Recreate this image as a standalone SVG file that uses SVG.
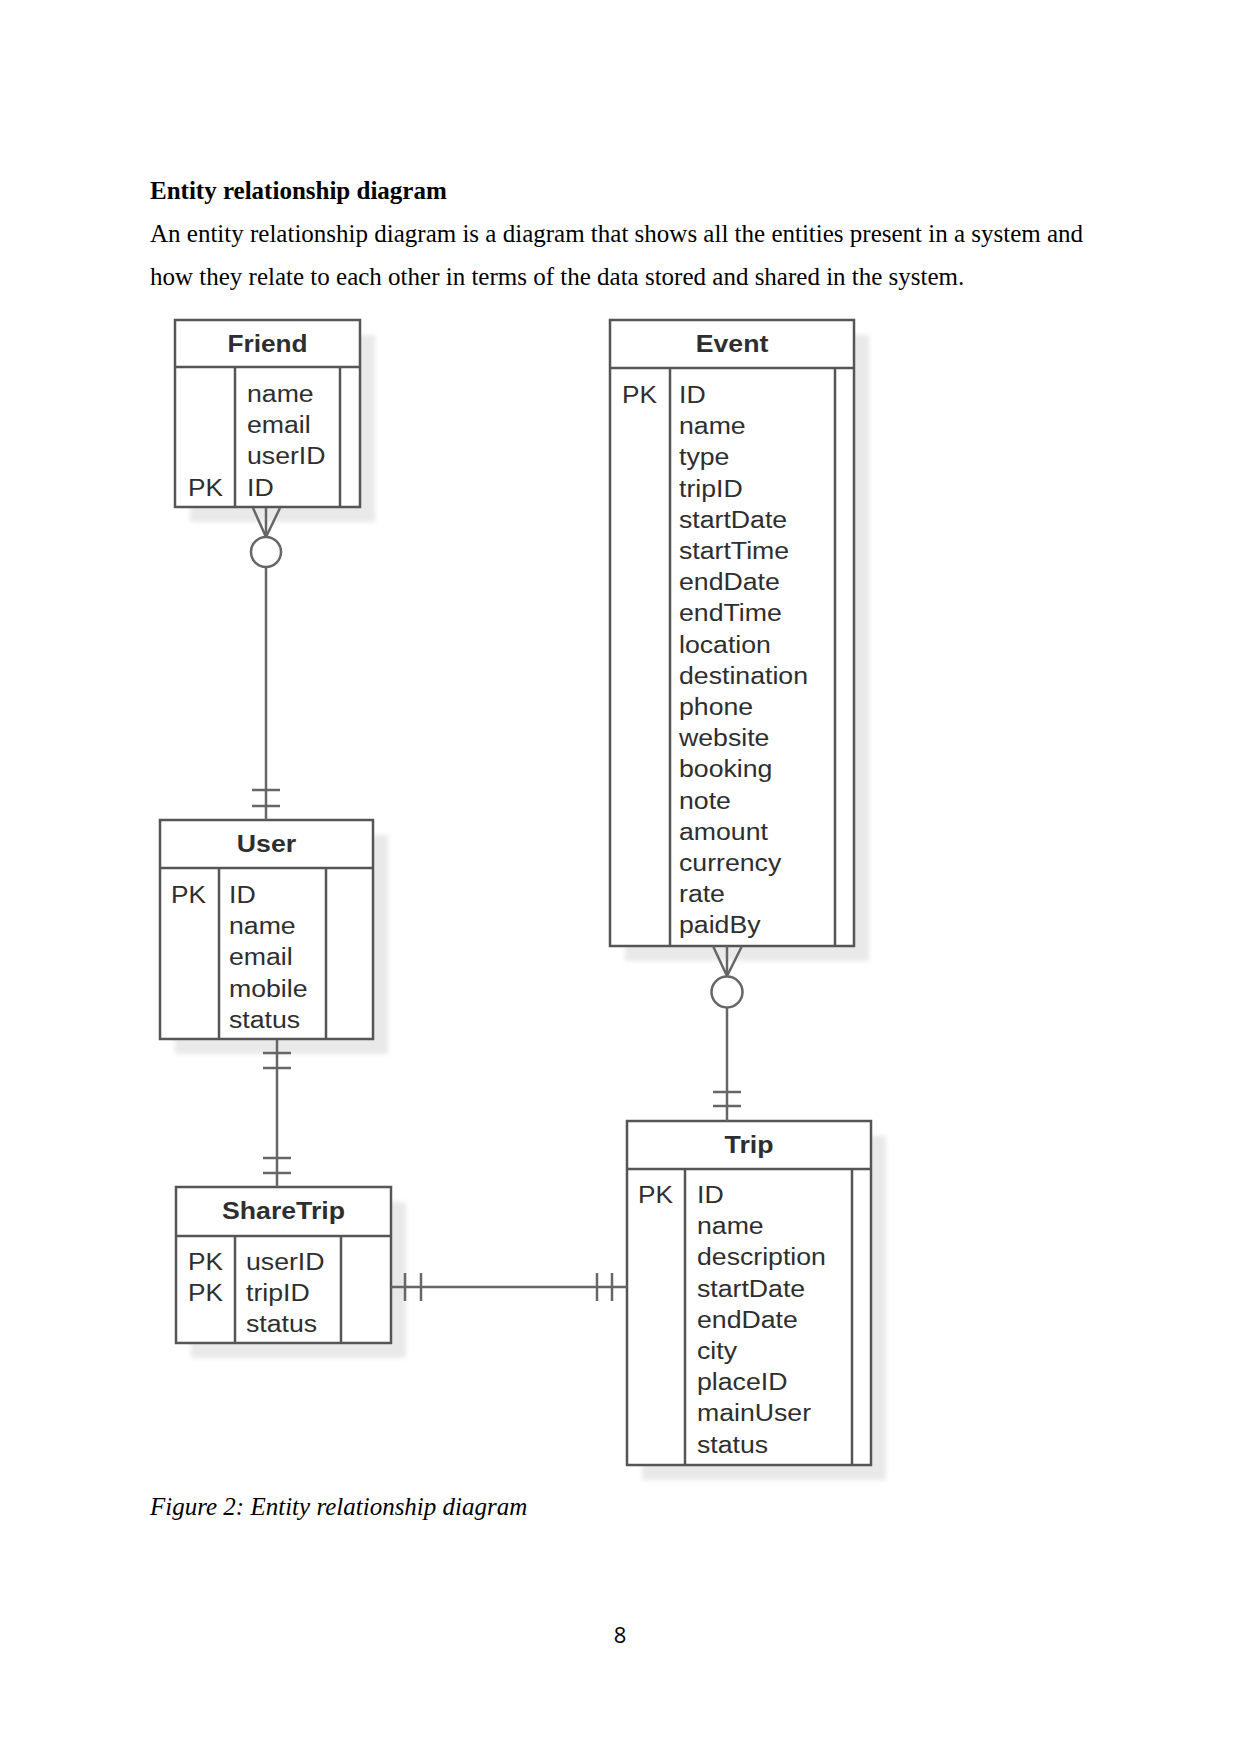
<svg xmlns="http://www.w3.org/2000/svg" width="1241" height="1754" viewBox="0 0 1241 1754">
<style>
.body{font-family:"Liberation Serif","Times New Roman",serif;font-size:25px;fill:#000}
.b{font-weight:bold}
.i{font-style:italic}
.pg{font-family:"Open Sans","DejaVu Sans",sans-serif;font-size:22px;fill:#000}
.box{fill:#fff;stroke:#555;stroke-width:2.5}
.div{stroke:#555;stroke-width:2.5;fill:none}
.sh{fill:#e9e9e9;filter:url(#blur)}
.t{font-family:"Liberation Sans",Arial,sans-serif;font-size:23px;fill:#2e2e2e}
.ttl{font-family:"Liberation Sans",Arial,sans-serif;font-size:23px;font-weight:bold;fill:#2e2e2e;text-anchor:middle}
.c{stroke:#666;stroke-width:2.5;fill:none}
</style>
<defs>
<filter id="blur" x="-10%" y="-10%" width="120%" height="120%"><feGaussianBlur stdDeviation="2"/></filter>
</defs>
<rect width="1241" height="1754" fill="#fff"/>

<text class="body b" x="150" y="199">Entity relationship diagram</text>
<text class="body" x="150" y="242">An entity relationship diagram is a diagram that shows all the entities present in a system and</text>
<text class="body" x="150" y="285">how they relate to each other in terms of the data stored and shared in the system.</text>

<g id="shadows">
  <rect class="sh" x="190" y="335" width="185" height="187"/>
  <rect class="sh" x="625" y="335" width="244" height="626"/>
  <rect class="sh" x="175" y="835" width="213" height="219"/>
  <rect class="sh" x="191" y="1202" width="215" height="156"/>
  <rect class="sh" x="642" y="1136" width="244" height="344"/>
</g>

<g id="friend">
  <rect class="box" x="175" y="320" width="185" height="187"/>
  <line class="div" x1="175" y1="367" x2="360" y2="367"/>
  <line class="div" x1="235" y1="367" x2="235" y2="507"/>
  <line class="div" x1="340" y1="367" x2="340" y2="507"/>
  <g transform="translate(267.5 0) scale(1.14 1)"><text class="ttl" x="0" y="352">Friend</text></g>
  <g transform="translate(188 0) scale(1.14 1)"><text class="t" x="0" y="496">PK</text></g>
  <g transform="translate(247 0) scale(1.16 1)"><text class="t" x="0" y="402">name<tspan x="0" dy="31.2">email</tspan><tspan x="0" dy="31.2">userID</tspan><tspan x="0" dy="31.2">ID</tspan></text></g>
</g>

<g id="event">
  <rect class="box" x="610" y="320" width="244" height="626"/>
  <line class="div" x1="610" y1="368" x2="854" y2="368"/>
  <line class="div" x1="670" y1="368" x2="670" y2="946"/>
  <line class="div" x1="835" y1="368" x2="835" y2="946"/>
  <g transform="translate(732 0) scale(1.16 1)"><text class="ttl" x="0" y="352">Event</text></g>
  <g transform="translate(622 0) scale(1.14 1)"><text class="t" x="0" y="403">PK</text></g>
  <g transform="translate(679 0) scale(1.16 1)"><text class="t" x="0" y="403">ID<tspan x="0" dy="31.2">name</tspan><tspan x="0" dy="31.2">type</tspan><tspan x="0" dy="31.2">tripID</tspan><tspan x="0" dy="31.2">startDate</tspan><tspan x="0" dy="31.2">startTime</tspan><tspan x="0" dy="31.2">endDate</tspan><tspan x="0" dy="31.2">endTime</tspan><tspan x="0" dy="31.2">location</tspan><tspan x="0" dy="31.2">destination</tspan><tspan x="0" dy="31.2">phone</tspan><tspan x="0" dy="31.2">website</tspan><tspan x="0" dy="31.2">booking</tspan><tspan x="0" dy="31.2">note</tspan><tspan x="0" dy="31.2">amount</tspan><tspan x="0" dy="31.2">currency</tspan><tspan x="0" dy="31.2">rate</tspan><tspan x="0" dy="31.2">paidBy</tspan></text></g>
</g>

<g id="user">
  <rect class="box" x="160" y="820" width="213" height="219"/>
  <line class="div" x1="160" y1="868" x2="373" y2="868"/>
  <line class="div" x1="219" y1="868" x2="219" y2="1039"/>
  <line class="div" x1="326" y1="868" x2="326" y2="1039"/>
  <g transform="translate(266.5 0) scale(1.16 1)"><text class="ttl" x="0" y="852">User</text></g>
  <g transform="translate(171 0) scale(1.14 1)"><text class="t" x="0" y="903">PK</text></g>
  <g transform="translate(229 0) scale(1.16 1)"><text class="t" x="0" y="903">ID<tspan x="0" dy="31.2">name</tspan><tspan x="0" dy="31.2">email</tspan><tspan x="0" dy="31.2">mobile</tspan><tspan x="0" dy="31.2">status</tspan></text></g>
</g>

<g id="sharetrip">
  <rect class="box" x="176" y="1187" width="215" height="156"/>
  <line class="div" x1="176" y1="1236" x2="391" y2="1236"/>
  <line class="div" x1="235" y1="1236" x2="235" y2="1343"/>
  <line class="div" x1="341" y1="1236" x2="341" y2="1343"/>
  <g transform="translate(283.5 0) scale(1.16 1)"><text class="ttl" x="0" y="1219">ShareTrip</text></g>
  <g transform="translate(188 0) scale(1.14 1)"><text class="t" x="0" y="1270">PK<tspan x="0" dy="31.2">PK</tspan></text></g>
  <g transform="translate(246 0) scale(1.16 1)"><text class="t" x="0" y="1270">userID<tspan x="0" dy="31.2">tripID</tspan><tspan x="0" dy="31.2">status</tspan></text></g>
</g>

<g id="trip">
  <rect class="box" x="627" y="1121" width="244" height="344"/>
  <line class="div" x1="627" y1="1169" x2="871" y2="1169"/>
  <line class="div" x1="685" y1="1169" x2="685" y2="1465"/>
  <line class="div" x1="852" y1="1169" x2="852" y2="1465"/>
  <g transform="translate(749 0) scale(1.16 1)"><text class="ttl" x="0" y="1153">Trip</text></g>
  <g transform="translate(638 0) scale(1.14 1)"><text class="t" x="0" y="1203">PK</text></g>
  <g transform="translate(697 0) scale(1.16 1)"><text class="t" x="0" y="1203">ID<tspan x="0" dy="31.2">name</tspan><tspan x="0" dy="31.2">description</tspan><tspan x="0" dy="31.2">startDate</tspan><tspan x="0" dy="31.2">endDate</tspan><tspan x="0" dy="31.2">city</tspan><tspan x="0" dy="31.2">placeID</tspan><tspan x="0" dy="31.2">mainUser</tspan><tspan x="0" dy="31.2">status</tspan></text></g>
</g>

<g id="connectors">
  <!-- Friend - User -->
  <line class="c" x1="266" y1="508" x2="266" y2="537"/>
  <line class="c" x1="253" y1="508" x2="266" y2="537"/>
  <line class="c" x1="280" y1="508" x2="266" y2="537"/>
  <circle class="c" cx="266" cy="552" r="15" fill="#fff"/>
  <line class="c" x1="266" y1="567" x2="266" y2="820"/>
  <line class="c" x1="252" y1="790" x2="280" y2="790"/>
  <line class="c" x1="252" y1="806" x2="280" y2="806"/>
  <!-- User - ShareTrip -->
  <line class="c" x1="277" y1="1040" x2="277" y2="1187"/>
  <line class="c" x1="263" y1="1053" x2="291" y2="1053"/>
  <line class="c" x1="263" y1="1068" x2="291" y2="1068"/>
  <line class="c" x1="263" y1="1158" x2="291" y2="1158"/>
  <line class="c" x1="263" y1="1173" x2="291" y2="1173"/>
  <!-- Event - Trip -->
  <line class="c" x1="727" y1="946" x2="727" y2="976"/>
  <line class="c" x1="713" y1="946" x2="727" y2="976"/>
  <line class="c" x1="742" y1="946" x2="727" y2="976"/>
  <circle class="c" cx="727" cy="992" r="15.5" fill="#fff"/>
  <line class="c" x1="727" y1="1007" x2="727" y2="1121"/>
  <line class="c" x1="713" y1="1092" x2="741" y2="1092"/>
  <line class="c" x1="713" y1="1106" x2="741" y2="1106"/>
  <!-- ShareTrip - Trip -->
  <line class="c" x1="391" y1="1287" x2="627" y2="1287"/>
  <line class="c" x1="405" y1="1273" x2="405" y2="1301"/>
  <line class="c" x1="421" y1="1273" x2="421" y2="1301"/>
  <line class="c" x1="597" y1="1273" x2="597" y2="1301"/>
  <line class="c" x1="612" y1="1273" x2="612" y2="1301"/>
</g>

<text class="body i" x="150" y="1515">Figure 2: Entity relationship diagram</text>
<text class="pg" x="620" y="1643" text-anchor="middle">8</text>
</svg>
